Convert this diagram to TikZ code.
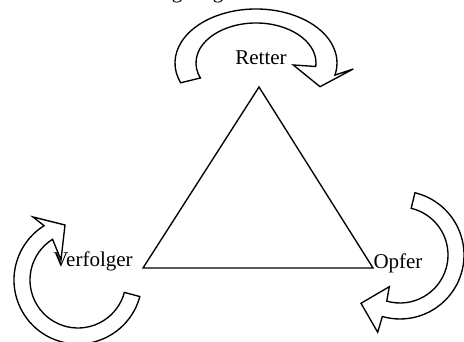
\documentclass[tikz,border=0pt]{standalone}
\usepackage{fontspec}
\setmainfont{Liberation Serif}
\begin{document}
\begin{tikzpicture}[x=1pt,y=1pt,
  band/.style={draw=black, line width=1.35pt, line join=miter, fill=white},
  lbl/.style={font=\fontsize{21}{24}\selectfont, inner sep=0pt, anchor=base},
  edge/.style={draw=black, line width=1.35pt}]
\useasboundingbox (0,0) rectangle (464,342);
\clip (0,0) rectangle (464,342);

% top circular arrow (Retter)
\begin{scope}[shift={(256,279)}]
\draw[band] (201.5:81pt and 54pt) arc[start angle=201.5, end angle=-13, x radius=81pt, y radius=54pt]
  -- (97.3,-6) -- (64,-23.7) -- (37.3,-2) -- (-5:60pt and 40pt)
  arc[start angle=-5, end angle=202, x radius=60pt, y radius=40pt] -- cycle;
\end{scope}

% left circular arrow (Verfolger)
\begin{scope}[shift={(78,62)}]
\draw[band] (-15:64pt) arc[start angle=-15, end angle=-238, radius=64pt]
  -- (-45,63) -- (-13,55) -- (-17,20) -- (122:48pt)
  arc[start angle=122, end angle=345, radius=48pt] -- cycle;
\end{scope}

% right circular arrow (Opfer)
\begin{scope}[shift={(400,87)}]
\draw[band] (76.5:64pt) arc[start angle=76.5, end angle=-106, radius=64pt]
  -- (-22.3,-77.3) -- (-39,-48.3) -- (-10.7,-31.7) -- (-106:48pt)
  arc[start angle=-106, end angle=76.5, radius=48pt] -- cycle;
\end{scope}

% triangle
\coordinate (apex) at (259,255);
\coordinate (vleft) at (143,74);
\coordinate (vright) at (373,74);
\draw[edge, line join=miter] (apex) -- (vleft) -- (vright) -- cycle;

% labels
\node[lbl] (retter) at (261,277) {Retter};
\node[lbl] (verfolger) at (93,75) {Verfolger};
\node[lbl] (opfer) at (398,73) {Opfer};

% cropped title (only descenders visible)
\node[lbl] (ga) at (177,343) {g};
\node[lbl] (gb) at (218,343) {g};
\end{tikzpicture}
\end{document}
